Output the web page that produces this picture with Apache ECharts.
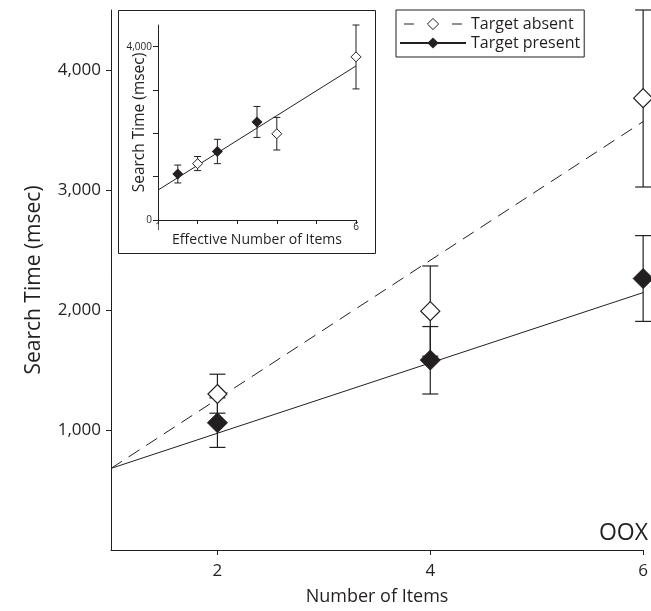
<!DOCTYPE html>
<html>
<head>
<meta charset="utf-8">
<title>Search time</title>
<script src="https://cdn.jsdelivr.net/npm/echarts@6/dist/echarts.min.js"></script>
<style>
html, body { margin: 0; padding: 0; background: #fff; }
#chart { width: 651px; height: 611px; }
</style>
</head>
<body>
<div id="chart"></div>
<script>
// main panel: set size on x
var setSizes = [2, 4, 6];
var absentMean = [1300, 1990, 3765];
var absentLow = [1140, 1615, 3025];
var absentHigh = [1465, 2367, 4500];
var presentMean = [1060, 1583, 2262];
var presentLow = [855, 1300, 1905];
var presentHigh = [1268, 1862, 2620];
// fitted lines, read at both ends of the x axis
var absentFit = [[1, 680], [6, 3570]];
var presentFit = [[1, 680], [6, 2145]];

// inset: effective number of items (same means, moved)
var insetAbsentX = [2, 4, 6];
var insetPresentX = [1.5, 2.5, 3.5];
var insetFit = [[1, 690], [6, 3555]];

var yTicks = [1000, 2000, 3000, 4000];
var xTicks = [2, 4, 6];
var insetYTicks = [0, 1000, 2000, 3000, 4000];
var insetYLabels = [0, 4000];
var insetXTicks = [1, 2, 3, 4, 5, 6];
var insetXLabels = [1, 6];

var ink = '#231f20';
var font = '"Open Sans", "Noto Sans", sans-serif';

function pts(xs, ys) {
  return xs.map(function (x, i) { return [x, ys[i]]; });
}
function bars(xs, lo, hi) {
  return xs.map(function (x, i) { return [x, lo[i], hi[i]]; });
}
function fmt(v) { return Number(v).toLocaleString('en-US'); }

// vertical whisker with caps
function errorBar(capW, lw) {
  return function (params, api) {
    var x = api.value(0);
    var top = api.coord([x, api.value(2)]);
    var bot = api.coord([x, api.value(1)]);
    var h = capW / 2;
    var st = { stroke: ink, lineWidth: lw };
    return {
      type: 'group',
      children: [
        { type: 'line', shape: { x1: top[0], y1: top[1], x2: bot[0], y2: bot[1] }, style: st },
        { type: 'line', shape: { x1: top[0] - h, y1: top[1], x2: top[0] + h, y2: top[1] }, style: st },
        { type: 'line', shape: { x1: bot[0] - h, y1: bot[1], x2: bot[0] + h, y2: bot[1] }, style: st }
      ]
    };
  };
}

var chart = echarts.init(document.getElementById('chart'));

var axisLine = { show: true, onZero: false, lineStyle: { color: ink, width: 1 } };

var option = {
  animation: false,
  backgroundColor: '#fff',
  textStyle: { fontFamily: font, color: ink },
  grid: [
    { left: 111, right: 4, top: 10, bottom: 61 },
    { left: 158, right: 295, top: 25, bottom: 391 }
  ],
  xAxis: [
    {
      gridIndex: 0, type: 'value', min: 1, max: 6,
      axisLine: axisLine,
      axisTick: { show: true, length: 5, customValues: xTicks, lineStyle: { color: ink } },
      axisLabel: { customValues: xTicks, fontSize: 17, margin: 13, color: ink, fontFamily: font },
      splitLine: { show: false },
      name: 'Number of Items', nameLocation: 'middle', nameGap: 38,
      nameTextStyle: { fontSize: 18, color: ink, fontFamily: font }
    },
    {
      gridIndex: 1, type: 'value', min: 1, max: 6,
      axisLine: axisLine,
      axisTick: { show: true, length: 4, customValues: insetXTicks, lineStyle: { color: ink } },
      axisLabel: { customValues: insetXLabels, fontSize: 10, margin: 2, color: ink, fontFamily: font },
      splitLine: { show: false },
      name: 'Effective Number of Items', nameLocation: 'middle', nameGap: 8,
      nameTextStyle: { fontSize: 14, color: ink, fontFamily: font }
    }
  ],
  yAxis: [
    {
      gridIndex: 0, type: 'value', min: 0, max: 4500,
      axisLine: axisLine,
      axisTick: { show: true, length: 5, customValues: yTicks, lineStyle: { color: ink } },
      axisLabel: { customValues: yTicks, fontSize: 17, margin: 10, color: ink, fontFamily: font, formatter: fmt },
      splitLine: { show: false },
      name: 'Search Time (msec)', nameLocation: 'middle', nameGap: 66,
      nameTextStyle: { fontSize: 21, color: ink, fontFamily: font }
    },
    {
      gridIndex: 1, type: 'value', min: 0, max: 4500,
      axisLine: axisLine,
      axisTick: { show: true, length: 5, customValues: insetYTicks, lineStyle: { color: ink } },
      axisLabel: { customValues: insetYLabels, fontSize: 10, margin: 6, color: ink, fontFamily: font, formatter: fmt },
      splitLine: { show: false },
      name: 'Search Time (msec)', nameLocation: 'middle', nameGap: 10, nameMoveOverlap: false,
      nameTextStyle: { fontSize: 15.5, color: ink, fontFamily: font }
    }
  ],
  legend: {
    orient: 'vertical', left: 396, top: 10,
    padding: [5, 4, 5, 3], itemGap: 1,
    itemWidth: 66, itemHeight: 14,
    borderColor: ink, borderWidth: 1, backgroundColor: '#fff',
    textStyle: { fontSize: 16, lineHeight: 18, color: ink, fontFamily: font },
    data: [
      {
        name: 'Target absent',
        itemStyle: { color: '#fff', borderColor: ink, borderWidth: 1 },
        lineStyle: { color: ink, width: 1, type: [10, 38], dashOffset: 44 }
      },
      { name: 'Target present', itemStyle: { color: ink } }
    ]
  },
  graphic: [
    { type: 'rect', shape: { x: 118.5, y: 10.5, width: 257, height: 243 }, style: { fill: 'none', stroke: ink, lineWidth: 1 } },
    { type: 'text', right: 3, top: 522, style: { text: 'OOX', font: '23px ' + font, fill: ink } }
  ],
  series: [
    // main fits
    {
      name: 'Target absent', type: 'line', xAxisIndex: 0, yAxisIndex: 0,
      data: absentFit, symbol: 'diamond', showSymbol: false, z: 2,
      lineStyle: { color: ink, width: 1, type: [13, 8] }, itemStyle: { color: ink }
    },
    {
      name: 'Target present', type: 'line', xAxisIndex: 0, yAxisIndex: 0,
      data: presentFit, symbol: 'diamond', showSymbol: false, z: 2,
      lineStyle: { color: ink, width: 1 }, itemStyle: { color: ink }
    },
    // main error bars
    {
      name: 'absent bars', type: 'custom', xAxisIndex: 0, yAxisIndex: 0, z: 3,
      renderItem: errorBar(16, 1.2), encode: { x: 0, y: [1, 2] },
      data: bars(setSizes, absentLow, absentHigh)
    },
    {
      name: 'present bars', type: 'custom', xAxisIndex: 0, yAxisIndex: 0, z: 3,
      renderItem: errorBar(16, 1.2), encode: { x: 0, y: [1, 2] },
      data: bars(setSizes, presentLow, presentHigh)
    },
    // main means
    {
      name: 'present means', type: 'scatter', xAxisIndex: 0, yAxisIndex: 0, z: 4,
      symbol: 'diamond', symbolSize: [20, 20],
      itemStyle: { color: ink, borderColor: ink, borderWidth: 1, opacity: 1 },
      data: pts(setSizes, presentMean)
    },
    {
      name: 'absent means', type: 'scatter', xAxisIndex: 0, yAxisIndex: 0, z: 5,
      symbol: 'diamond', symbolSize: [19, 19],
      itemStyle: { color: '#fff', borderColor: ink, borderWidth: 1.2, opacity: 1 },
      data: pts(setSizes, absentMean)
    },
    // inset
    {
      name: 'inset fit', type: 'line', xAxisIndex: 1, yAxisIndex: 1,
      data: insetFit, showSymbol: false, z: 2,
      lineStyle: { color: ink, width: 1 }
    },
    {
      name: 'inset absent bars', type: 'custom', xAxisIndex: 1, yAxisIndex: 1, z: 3,
      renderItem: errorBar(7, 1), encode: { x: 0, y: [1, 2] },
      data: bars(insetAbsentX, absentLow, absentHigh)
    },
    {
      name: 'inset present bars', type: 'custom', xAxisIndex: 1, yAxisIndex: 1, z: 3,
      renderItem: errorBar(7, 1), encode: { x: 0, y: [1, 2] },
      data: bars(insetPresentX, presentLow, presentHigh)
    },
    {
      name: 'inset present', type: 'scatter', xAxisIndex: 1, yAxisIndex: 1, z: 4,
      symbol: 'diamond', symbolSize: [11, 11],
      itemStyle: { color: ink, opacity: 1 },
      data: pts(insetPresentX, presentMean)
    },
    {
      name: 'inset absent', type: 'scatter', xAxisIndex: 1, yAxisIndex: 1, z: 5,
      symbol: 'diamond', symbolSize: [10, 10],
      itemStyle: { color: '#fff', borderColor: ink, borderWidth: 1, opacity: 1 },
      data: pts(insetAbsentX, absentMean)
    }
  ]
};

chart.setOption(option);
</script>
</body>
</html>
